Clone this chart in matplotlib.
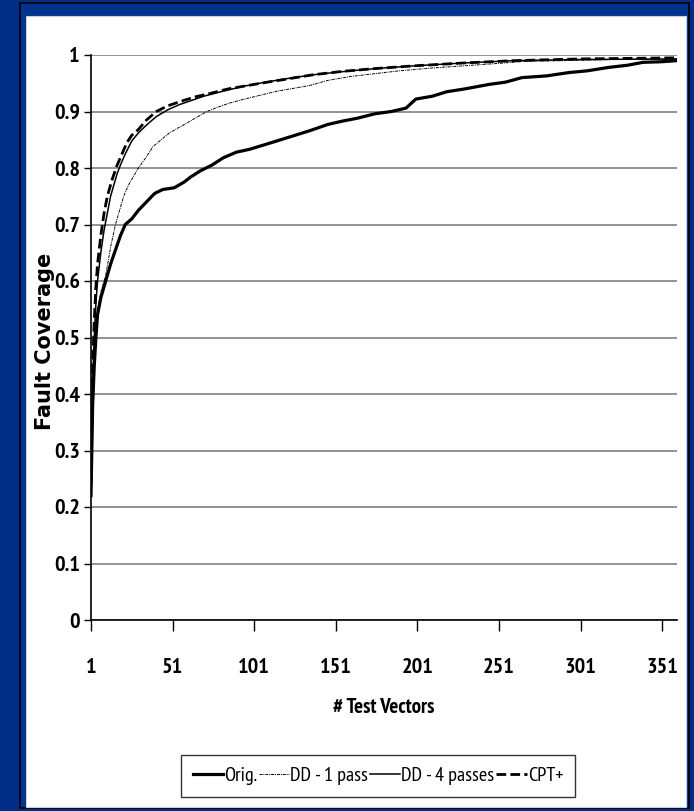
import matplotlib
matplotlib.use("Agg")
import matplotlib.pyplot as plt
from matplotlib.patches import Rectangle
from matplotlib import font_manager

names = {f.name for f in font_manager.fontManager.ttflist}
_pref = ['Liberation Sans Narrow', 'Arial Narrow', 'Nimbus Sans Narrow', 'PT Sans Narrow',
         'Roboto Condensed', 'Open Sans Condensed', 'Asap Condensed', 'Barlow Semi Condensed',
         'Barlow Condensed']
_narrow = next((n for n in _pref if n in names), 'DejaVu Sans')
NARROW = [_narrow, 'DejaVu Sans']
WIDE = ['DejaVu Sans']

# ---- data ----
orig_x = [1, 2, 3, 4, 5, 7, 10, 13, 16, 19, 22, 26, 30, 35, 40, 45, 52, 58, 62, 68, 75, 82, 90, 98, 106,
          115, 125, 135, 146, 155, 164, 175, 185, 194, 200, 210, 219, 230, 245, 255, 265, 280, 294, 305,
          318, 330, 339, 350, 360]
orig_y = [0.22, 0.38, 0.45, 0.50, 0.54, 0.57, 0.60, 0.63, 0.655, 0.68, 0.70, 0.71, 0.725, 0.74, 0.755,
          0.762, 0.765, 0.775, 0.784, 0.795, 0.805, 0.818, 0.828, 0.833, 0.840, 0.848, 0.857, 0.866,
          0.877, 0.883, 0.888, 0.896, 0.900, 0.906, 0.922, 0.927, 0.935, 0.94, 0.948, 0.952, 0.96,
          0.963, 0.969, 0.972, 0.978, 0.982, 0.987, 0.988, 0.99]

dd1_x = [1, 2, 3, 4, 5, 7, 10, 13, 16, 19, 21, 24, 26, 30, 35, 39, 44, 49, 55, 60, 66, 72, 79, 86, 95,
         105, 115, 125, 135, 146, 160, 175, 190, 210, 230, 250, 268, 290, 320, 360]
dd1_y = [0.22, 0.40, 0.47, 0.52, 0.55, 0.58, 0.61, 0.66, 0.70, 0.73, 0.75, 0.77, 0.78, 0.80, 0.82,
         0.838, 0.85, 0.862, 0.872, 0.88, 0.89, 0.90, 0.908, 0.915, 0.922, 0.929, 0.936, 0.941, 0.946,
         0.955, 0.962, 0.967, 0.972, 0.977, 0.981, 0.985, 0.989, 0.99, 0.992, 0.993]

dd4_x = [1, 2, 3, 4, 5, 7, 9, 11, 13, 15, 17, 19, 22, 26, 30, 35, 41, 48, 55, 60, 70, 82, 95, 110, 125,
         140, 160, 180, 200, 230, 260, 300, 360]
dd4_y = [0.22, 0.42, 0.50, 0.56, 0.60, 0.65, 0.69, 0.72, 0.75, 0.77, 0.79, 0.805, 0.825, 0.848, 0.862,
         0.876, 0.891, 0.903, 0.912, 0.917, 0.927, 0.936, 0.945, 0.953, 0.96, 0.966, 0.972, 0.977,
         0.981, 0.986, 0.99, 0.992, 0.993]

cpt_x = [1, 2, 3, 4, 5, 7, 9, 11, 14, 17, 20, 23, 26, 30, 35, 41, 48, 56, 65, 74, 85, 95, 105, 120, 137,
         155, 175, 200, 230, 260, 300, 360]
cpt_y = [0.24, 0.45, 0.53, 0.59, 0.63, 0.68, 0.72, 0.75, 0.78, 0.805, 0.825, 0.845, 0.858, 0.868, 0.885,
         0.90, 0.91, 0.918, 0.926, 0.932, 0.94, 0.945, 0.95, 0.957, 0.965, 0.971, 0.976, 0.981, 0.986,
         0.99, 0.993, 0.995]

series_labels = ['Orig.', 'DD - 1 pass', 'DD - 4 passes', 'CPT+']
x_ticks = [1, 51, 101, 151, 201, 251, 301, 351]
y_ticks = [0, 0.1, 0.2, 0.3, 0.4, 0.5, 0.6, 0.7, 0.8, 0.9, 1]
y_tick_labels = ['0', '0.1', '0.2', '0.3', '0.4', '0.5', '0.6', '0.7', '0.8', '0.9', '1']

W, H = 694, 811
fig = plt.figure(figsize=(W / 100, H / 100), dpi=100)
fig.patch.set_facecolor('#002e86')

def frect(x0, y0, x1, y1, **kw):
    return Rectangle((x0 / W, 1 - y1 / H), (x1 - x0) / W, (y1 - y0) / H,
                     transform=fig.transFigure, zorder=-10, **kw)

fig.patches.append(frect(20, 3, 689, 808, facecolor='#00348f', edgecolor='#000000', linewidth=1.2))
fig.patches.append(frect(26, 16, 686, 807, facecolor='white', edgecolor='#c8d0e0', linewidth=0.8))

ax = fig.add_axes([91 / W, 1 - 620 / H, (677 - 91) / W, (620 - 55) / H])
ax.set_facecolor('none')

l1, = ax.plot(orig_x, orig_y, color='black', lw=2.3)
l2, = ax.plot(dd1_x, dd1_y, color='black', lw=0.7, linestyle=(0, (3, 1, 1, 1)))
l3, = ax.plot(dd4_x, dd4_y, color='black', lw=1.1)
l4, = ax.plot(cpt_x, cpt_y, color='black', lw=2.0, linestyle=(0, (3.5, 1.5)))

ax.set_xlim(1, 360)
ax.set_ylim(0, 1)
ax.set_xticks(x_ticks)
ax.set_xticklabels([str(t) for t in x_ticks], fontfamily=NARROW, fontweight='bold', fontsize=16)
ax.set_yticks(y_ticks)
ax.set_yticklabels(y_tick_labels, fontfamily=NARROW, fontweight='bold', fontsize=16)
ax.tick_params(axis='x', direction='out', length=8, width=1, pad=19.5)
ax.tick_params(axis='y', direction='out', length=5, width=1, pad=3)
ax.yaxis.grid(True, color='#808080', lw=1.2)
ax.set_axisbelow(True)
for s in ['top', 'right']:
    ax.spines[s].set_visible(False)
ax.spines['left'].set_linewidth(1.2)
ax.spines['bottom'].set_linewidth(1.2)

ax.set_xlabel('# Test Vectors', fontfamily=NARROW, fontweight='bold', fontsize=15, labelpad=15)
fig.text(45 / W, 1 - 341 / H, 'Fault Coverage', rotation=90, ha='center', va='center',
         fontfamily=WIDE, fontweight='bold', fontsize=15)

leg = fig.legend([l1, l2, l3, l4], series_labels, loc='center', ncol=4,
                 bbox_to_anchor=(378 / W, 1 - 776 / H), frameon=True, fancybox=False,
                 edgecolor='black', handlelength=1.5, handletextpad=0.05, columnspacing=0.1,
                 borderpad=0.6, borderaxespad=0, prop={'family': NARROW, 'size': 14.5})
leg.get_frame().set_linewidth(1.0)

fig.savefig('out.png', dpi=100, facecolor=fig.get_facecolor())
